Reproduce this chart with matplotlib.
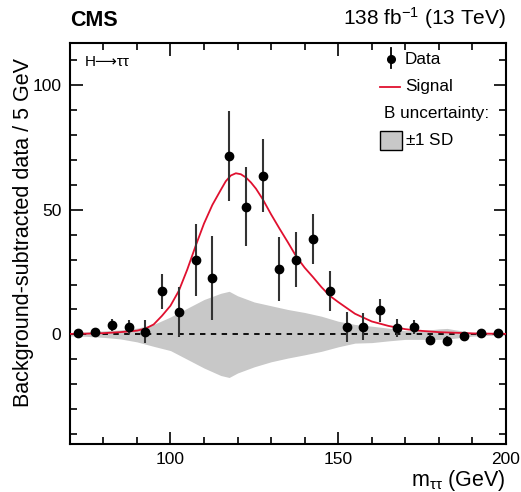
import numpy as np
import matplotlib.pyplot as plt
from matplotlib.patches import Rectangle
from matplotlib.lines import Line2D

plt.rcParams['font.family'] = ['Liberation Sans', 'DejaVu Sans']
plt.rcParams['mathtext.fontset'] = 'custom'
plt.rcParams['mathtext.rm'] = 'Liberation Sans'
plt.rcParams['mathtext.it'] = 'Liberation Sans:italic'

# background-subtracted data, 5 GeV bins
mass = [72.5, 77.5, 82.5, 87.5, 92.5, 97.5, 102.5, 107.5, 112.5, 117.5, 122.5,
        127.5, 132.5, 137.5, 142.5, 147.5, 152.5, 157.5, 162.5, 167.5, 172.5,
        177.5, 182.5, 187.5, 192.5, 197.5]
data = [0.5, 0.8, 3.7, 3.1, 1.1, 17.3, 8.9, 30.0, 22.7, 71.6, 51.3,
        63.7, 26.3, 30.0, 38.4, 17.3, 2.8, 3.1, 9.6, 2.5, 2.9,
        -2.1, -2.5, -0.7, 0.4, 0.5]
err = [0.6, 0.8, 2.5, 2.8, 4.7, 7.0, 10.0, 14.5, 17.0, 18.0, 16.0,
       14.7, 13.0, 11.0, 10.0, 8.0, 6.0, 5.3, 4.7, 3.7, 2.9,
       2.0, 2.0, 1.2, 0.8, 0.8]

# signal curve
sig_x = [70, 75, 80, 85, 90, 92.5, 95, 97.5, 100, 102.5, 105, 107.5, 110,
         112.5, 115, 116.5, 118, 119.5, 121, 122.5, 124, 125.5, 127.5, 130,
         132.5, 135, 137.5, 140, 142.5, 145, 147.5, 150, 155, 160, 165, 170,
         175, 180, 190, 200]
sig_y = [0.2, 0.3, 0.5, 0.9, 1.5, 2.3, 4.0, 7.5, 11.5, 17.5, 26.0, 35.5, 44.5,
         52.0, 58.0, 61.5, 63.8, 64.7, 64.3, 63.0, 61.0, 58.5, 54.3, 48.2,
         42.5, 37.0, 31.3, 26.8, 23.0, 19.0, 15.5, 13.0, 8.3, 5.2, 3.4, 2.1,
         1.4, 0.9, 0.4, 0.2]

# background uncertainty band (+-1 SD)
band_x = [70, 75, 80, 85, 90, 95, 100, 105, 110, 115, 117.5, 120, 125, 130,
          135, 140, 145, 150, 155, 160, 165, 170, 175, 180, 182.5, 185, 190,
          195, 200]
band_up = [0.6, 1.0, 1.4, 1.8, 2.5, 4.0, 7.0, 10.5, 14.0, 16.5, 17.3, 15.5,
           13.0, 11.5, 10.0, 8.8, 7.3, 5.3, 4.0, 3.3, 2.5, 1.5, 1.5, 2.2, 2.4,
           1.8, 0.8, 0.4, 0.3]
band_dn = [-0.6, -0.8, -1.2, -1.8, -3.0, -4.8, -6.5, -10.0, -13.5, -16.5,
           -17.3, -15.5, -13.0, -11.0, -9.5, -8.2, -6.8, -5.0, -3.5, -3.3,
           -2.6, -2.0, -2.0, -2.0, -1.8, -1.5, -0.7, -0.4, -0.3]

fig = plt.figure(figsize=(5.21, 4.92), dpi=100)
ax = fig.add_axes([0.134, 0.0976, 0.837, 0.815])

ax.fill_between(band_x, band_dn, band_up, color='#c8c8c8', lw=0, zorder=1)
ax.axhline(0, color='black', ls=(0, (3, 3)), lw=1.3, zorder=2)
ax.plot(sig_x, sig_y, color='#e0102f', lw=1.3, zorder=3)
ax.errorbar(mass, data, yerr=err, fmt='o', color='black', ecolor='#333333',
            ms=6, elinewidth=1.5, capsize=0, zorder=4)

ax.set_xlim(70, 200)
ax.set_ylim(-44, 117)
ax.set_xticks([100, 150, 200])
ax.set_xticks(np.arange(70, 201, 10), minor=True)
ax.set_yticks([0, 50, 100])
ax.set_yticks(np.arange(-40, 117, 10), minor=True)
ax.tick_params(which='both', direction='in', top=True, right=True,
               labelsize=12.5, width=1.2)
ax.tick_params(which='major', length=9, pad=6)
ax.tick_params(which='minor', length=5)
for s in ax.spines.values():
    s.set_linewidth(1.5)

# axis titles placed like the CMS style
fig.text(0.046, 0.528, 'Background-subtracted data / 5 GeV', fontsize=15.5,
         rotation=90, ha='center', va='center')
fig.text(0.971, 0.024, r'm$_{\rm ττ}$ (GeV)', fontsize=15.5, ha='right',
         va='center')

fig.text(0.134, 0.937, 'CMS', fontsize=15.5, fontweight='bold', ha='left', va='bottom')
fig.text(0.971, 0.937, r'138 fb$^{-1}$ (13 TeV)', fontsize=15, ha='right', va='bottom')

ax.text(0.034, 0.953, 'H\u27f6\u03c4\u03c4', transform=ax.transAxes,
        fontsize=11, ha='left', va='center')

# legend
ax.add_line(Line2D([0.736, 0.736], [0.938, 0.988], color='black', lw=1.3,
                   transform=ax.transAxes))
ax.add_line(Line2D([0.736], [0.960], marker='o', ms=5.5, color='black',
                   transform=ax.transAxes))
ax.text(0.768, 0.960, 'Data', transform=ax.transAxes, fontsize=12.3, va='center')
ax.add_line(Line2D([0.711, 0.758], [0.891, 0.891], color='#e0102f', lw=1.3,
                   transform=ax.transAxes))
ax.text(0.768, 0.891, 'Signal', transform=ax.transAxes, fontsize=12.3, va='center')
ax.text(0.720, 0.825, 'B uncertainty:', transform=ax.transAxes, fontsize=12.3,
        va='center')
ax.add_patch(Rectangle((0.711, 0.733), 0.050, 0.048, transform=ax.transAxes,
                       facecolor='#c8c8c8', edgecolor='black', lw=1))
ax.text(0.768, 0.758, r'$\pm$1 SD', transform=ax.transAxes, fontsize=12.3,
        va='center')

fig.savefig('out.png', dpi=100)
